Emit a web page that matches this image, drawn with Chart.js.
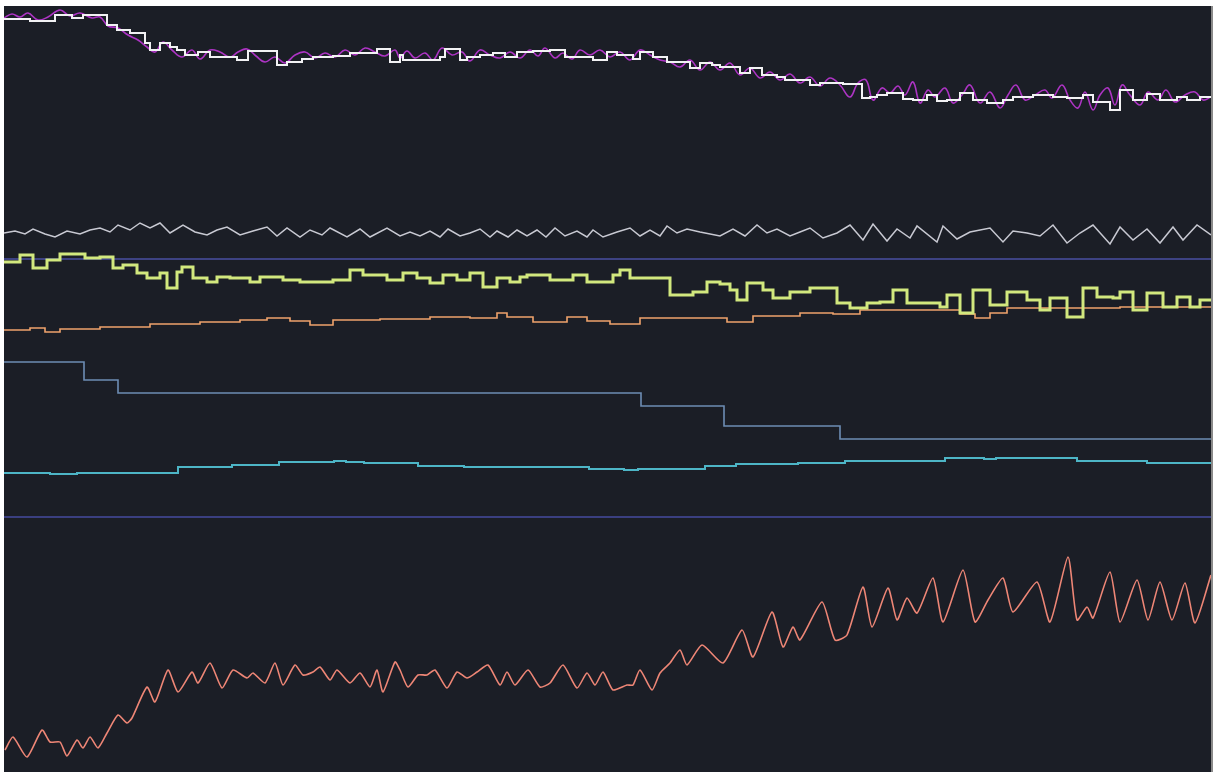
<!DOCTYPE html>
<html>
<head>
<meta charset="utf-8">
<title>Signal monitor</title>
<script src="https://cdn.jsdelivr.net/npm/chart.js@4.4.1/dist/chart.umd.min.js"></script>
<style>
  html, body { margin: 0; padding: 0; background: #ffffff; }
  #frame {
    position: absolute; left: 4px; top: 6px;
    width: 1207px; height: 766px;
    border-right: 2px solid #8a8a8a;
    background: #1b1e26;
  }
  canvas { display: block; }
</style>
</head>
<body>
<div id="frame"><canvas id="chart" width="1207" height="766"></canvas></div>
<script>
// Time axis in seconds, levels in raw units (0 .. 766).

// Upper pair: oscillating reference (magenta) and held samples (white)
const magentaT = [0,0.8,1.6,2.4,3.4,4.4,5.6,6.6,7.6,8.8,9.6,10.4,11.4,12.4,13.4,14.3,15.1,15.9,16.8,17.8,18.8,19.6,20.6,21.6,22.6,23.4,24.3,25.2,26.1,27.1,28.1,29.1,30.1,31.1,32.1,33.1,34.1,35.1,36.1,37.1,38.1,39.1,39.6,40.3,41.1,42.1,42.9,43.8,44.8,45.8,46.6,47.6,48.6,49.6,50.6,51.6,52.6,53.4,54.1,55.1,55.9,56.8,57.6,58.6,59.6,60.6,61.6,62.6,63.6,64.6,65.6,66.6,67.6,68.6,69.6,70.6,71.6,72.6,73.6,74.6,75.6,76.6,77.6,78.6,79.6,80.6,81.6,82.6,83.6,84.6,85.4,86.2,86.9,87.8,88.6,89.4,90.1,90.9,91.6,92.4,93.1,94.1,94.9,95.8,96.6,97.6,98.6,99.6,100.4,101.2,102.1,103.1,104.1,104.8,105.8,106.6,107.4,108.1,108.9,109.6,110.4,111.1,111.8,112.6,113.6,114.4,115.4,116.2,117.1,118.1,119.1,119.9,120.7];
const magentaV = [754,758,755,759,752,755,762,756,759,754,755,746,744,737,732,725,720,730,722,715,722,713,722,720,715,720,723,716,710,715,709,717,720,714,719,715,722,717,724,720,716,722,714,721,714,719,712,724,717,720,711,722,717,714,720,714,722,716,724,714,719,713,722,717,722,715,720,712,722,717,712,710,705,712,702,710,702,709,697,704,694,700,692,698,689,695,686,694,687,675,689,692,672,684,679,686,677,690,669,682,675,684,669,677,687,669,680,664,677,687,672,677,682,674,687,672,664,680,662,677,684,667,687,677,667,680,672,682,670,677,680,672,675];

const whiteT = [0,2.6,5.1,6.8,7.9,10.3,11.3,12.6,14.1,14.6,15.6,16.6,17.3,18.1,19.4,20.6,23.3,24.4,27.3,28.3,29.8,30.9,32.9,34.6,37.3,38.6,39.6,39.9,43.6,44.1,45.6,46.3,47.6,48.9,50.1,51.3,52.9,54.6,56.1,58.9,60.3,61.3,62.9,63.6,64.9,66.3,68.6,69.6,70.8,71.6,73.6,74.6,75.8,77.3,78.1,80.6,81.6,83.9,85.8,86.6,87.3,88.3,89.9,90.9,92.3,93.3,94.3,95.6,96.9,98.3,99.9,100.9,102.9,104.9,106.3,107.9,108.9,110.6,111.6,112.9,114.3,115.6,117.3,118.3,119.6,120.7];
const whiteV = [753,751,757,754,757,747,742,739,729,722,729,725,722,717,720,715,712,721,707,710,713,715,716,719,723,710,717,712,715,723,712,715,717,719,715,720,721,722,715,712,720,717,713,720,715,710,704,709,707,705,699,704,697,695,692,687,689,688,674,675,677,679,673,672,677,671,672,679,672,669,672,675,677,675,674,677,670,662,682,672,678,672,675,672,675,675];

// Fast zigzag trace (light grey)
const greyT = [0,1.1,2.1,2.9,4.1,5.1,6.3,7.6,8.6,9.6,10.6,11.4,12.6,13.6,14.6,15.6,16.6,17.9,19.1,20.3,21.3,22.3,23.6,24.9,26.3,27.3,28.3,29.6,30.6,31.8,32.6,34.3,35.6,36.6,38.3,39.6,40.6,41.6,42.6,43.6,44.4,45.6,46.6,47.6,48.6,49.3,50.4,51.3,52.3,53.3,54.2,55.1,56.1,57.3,58.3,58.9,59.9,61.3,62.6,63.6,64.6,65.6,66.3,67.3,68.3,69.6,71.6,72.9,74.1,75.3,76.3,77.3,78.6,79.6,80.6,81.9,83.3,84.6,85.9,86.9,88.3,89.3,90.6,91.3,93.3,93.9,95.3,96.6,98.6,99.9,100.9,102.3,103.6,104.9,106.3,107.6,108.9,110.6,111.6,112.9,114.3,115.6,116.9,117.9,119.3,120.7];
const greyV = [539,541,538,543,538,535,541,538,542,544,540,547,542,549,544,549,539,547,540,537,542,545,537,541,545,536,544,535,542,537,544,535,543,535,544,536,540,536,541,535,543,536,539,543,535,541,535,542,536,542,535,544,536,541,535,542,535,540,544,536,542,536,546,539,543,540,536,543,536,547,539,543,536,540,544,534,539,547,532,548,531,543,534,546,530,546,533,540,544,530,541,539,536,547,529,539,547,528,545,532,543,529,545,532,547,537];

// Held level (yellow-green)
const limeT = [0,1.6,2.9,4.3,5.6,8.1,9.6,10.9,11.9,13.3,14.3,15.6,16.3,17.3,17.8,18.9,20.3,21.3,22.6,24.6,25.6,27.9,29.6,32.9,34.6,35.9,38.3,39.9,41.3,42.6,43.9,45.3,46.6,47.9,49.3,50.6,51.6,52.3,54.6,56.9,58.3,60.9,61.6,62.6,66.6,68.9,70.3,71.6,72.6,73.3,74.3,75.9,76.9,78.6,80.6,83.3,84.6,86.3,87.6,88.9,90.3,93.6,94.3,95.6,96.9,98.6,100.3,102.3,103.6,104.6,106.3,107.9,109.3,110.9,111.6,112.9,114.3,115.9,117.3,118.6,119.6,120.7];
const limeV = [510,517,504,512,518,514,515,504,507,499,494,499,484,500,505,494,490,495,494,490,495,492,490,492,502,497,492,499,494,489,497,492,499,485,494,490,495,497,492,497,490,497,502,494,477,480,490,488,482,472,489,482,474,480,484,469,464,469,470,482,469,465,477,459,482,467,480,472,462,474,455,484,475,474,480,462,479,465,475,465,472,472];

// Slow drift (orange)
const orangeT = [0,2.6,4.1,5.6,9.6,14.6,19.6,23.6,26.3,28.6,30.6,32.9,37.6,42.6,46.6,49.3,50.3,52.9,56.3,58.3,60.6,63.6,72.3,74.9,79.6,82.9,85.6,89.6,95.6,97.1,98.6,100.3,105.6,111.6,120.7];
const orangeV = [442,444,440,443,445,448,450,452,454,451,447,452,453,455,454,459,455,450,455,451,448,454,450,456,459,458,462,462,458,454,459,464,464,465,465];

// Set-point staircase (steel blue)
const stepT = [0,8.0,11.4,63.7,72.0,83.6,120.7];
const stepV = [410,392,379,366,346,333,333];

// Baseline trace (cyan)
const cyanT = [0,4.6,7.3,12.0,17.4,22.8,27.5,33.0,34.2,36.0,41.4,46.0,49.2,58.5,62.0,63.4,70.1,73.2,79.4,84.1,94.1,98.0,99.2,107.3,114.3,120.7];
const cyanV = [299,298,299,299,305,307,310,311,310,309,306,305,305,303,302,303,306,308,309,311,314,313,314,311,309,309];

// Fixed limit lines
const limitHigh = 513;
const limitLow = 255;
const axisSpan = [0, 120.7];

// Lower oscillation (red)
const redT = [0.1,0.9,2.3,3.8,4.6,5.6,6.3,7.3,7.9,8.6,9.4,10.3,11.4,12.3,12.8,14.3,15.1,16.4,17.4,18.8,19.4,20.6,21.8,22.9,24.3,24.9,26.1,27.1,27.9,29.1,29.9,30.9,31.6,32.6,33.3,34.6,35.6,36.6,37.3,37.9,39.1,39.6,40.4,41.4,42.3,43.1,44.3,45.3,46.3,47.3,48.4,49.6,50.3,51.1,52.4,53.6,54.6,55.9,57.3,58.3,59.1,59.9,60.9,62.3,62.9,63.6,64.8,65.6,66.6,67.6,68.3,69.8,71.9,73.8,74.9,76.8,77.9,78.9,79.6,81.8,83.1,84.3,85.9,86.8,88.4,89.3,90.3,91.3,92.9,93.9,95.9,97.1,98.4,99.9,100.9,103.3,104.6,106.4,107.3,108.3,108.9,110.6,111.6,113.3,114.4,115.6,116.8,118.1,119.1,120.7];
const redV = [22,35,15,42,30,30,16,32,24,35,24,39,57,49,54,85,70,102,80,100,89,109,84,102,94,99,89,109,87,107,97,100,105,92,102,89,99,85,102,80,110,102,85,97,97,102,84,100,94,100,107,87,100,87,102,85,89,107,84,99,87,100,82,87,87,102,82,99,109,122,107,127,109,142,115,160,125,145,132,170,132,137,185,145,184,152,174,159,194,150,202,150,172,194,160,190,150,215,152,165,154,200,150,192,152,190,152,189,149,197];

function pairs(ts, vs) {
  return ts.map((t, i) => ({ x: t, y: vs[i] }));
}
function flat(level) {
  return axisSpan.map(t => ({ x: t, y: level }));
}

const base = { pointRadius: 0, pointHoverRadius: 0, fill: false, clip: 3 };

const backdrop = {
  id: 'backdrop',
  beforeDraw(chart) {
    const c = chart.ctx;
    c.save();
    c.fillStyle = '#1b1e26';
    c.fillRect(0, 0, chart.width, chart.height);
    c.restore();
  }
};

new Chart(document.getElementById('chart'), {
  type: 'line',
  data: {
    datasets: [
      Object.assign({ label: 'Held', data: pairs(whiteT, whiteV), borderColor: '#f2f2f4', borderWidth: 2, stepped: 'before', order: 1 }, base),
      Object.assign({ label: 'Reference', data: pairs(magentaT, magentaV), borderColor: '#ad34c4', borderWidth: 1.6, tension: 0.4, order: 2 }, base),
      Object.assign({ label: 'Ripple', data: pairs(greyT, greyV), borderColor: '#c8c9d2', borderWidth: 1.5, order: 3 }, base),
      Object.assign({ label: 'Upper limit', data: flat(limitHigh), borderColor: '#3d4282', borderWidth: 2, order: 6 }, base),
      Object.assign({ label: 'Level', data: pairs(limeT, limeV), borderColor: '#d2e87e', borderWidth: 3, stepped: 'before', order: 4 }, base),
      Object.assign({ label: 'Drift', data: pairs(orangeT, orangeV), borderColor: '#f0a36c', borderWidth: 1.6, stepped: 'before', order: 5 }, base),
      Object.assign({ label: 'Set-point', data: pairs(stepT, stepV), borderColor: '#6d8db4', borderWidth: 1.6, stepped: 'before', order: 7 }, base),
      Object.assign({ label: 'Baseline', data: pairs(cyanT, cyanV), borderColor: '#4db5c6', borderWidth: 2, stepped: 'before', order: 8 }, base),
      Object.assign({ label: 'Lower limit', data: flat(limitLow), borderColor: '#3a3f80', borderWidth: 2, order: 9 }, base),
      Object.assign({ label: 'Oscillation', data: pairs(redT, redV), borderColor: '#ee8676', borderWidth: 1.6, tension: 0.2, order: 10 }, base)
    ]
  },
  options: {
    responsive: false,
    animation: false,
    devicePixelRatio: 1,
    layout: { padding: 0 },
    events: [],
    plugins: { legend: { display: false }, tooltip: { enabled: false } },
    scales: {
      x: { type: 'linear', min: 0, max: 120.7, display: false },
      y: { type: 'linear', min: 0, max: 766, display: false }
    }
  },
  plugins: [backdrop]
});
</script>
</body>
</html>
